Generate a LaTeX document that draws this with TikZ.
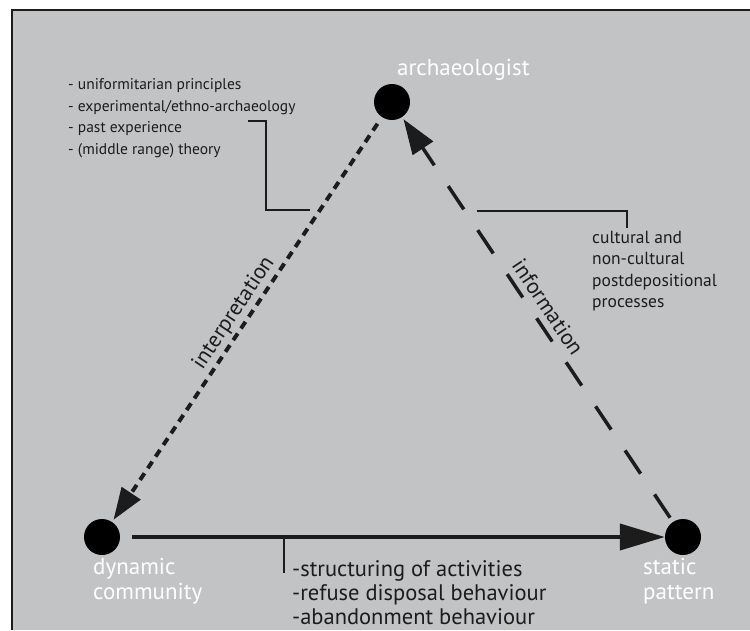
\documentclass[tikz,border=0pt]{standalone}
\usepackage{fontspec}
\setmainfont{PT Sans}
\usetikzlibrary{arrows.meta,calc}
\definecolor{bg}{HTML}{C2C3C5}
\definecolor{ink}{HTML}{1C1C1C}
\begin{document}
\begin{tikzpicture}[x=1pt,y=-1pt,
  dot/.style={circle,fill=black,minimum size=36pt,inner sep=0pt},
  wlabel/.style={text=white,font=\fontsize{23}{25}\selectfont,align=left,inner sep=0pt},
  lnotestyle/.style={text=ink,font=\fontsize{15.5}{21.5}\selectfont,align=left,inner sep=0pt},
  note/.style={text=ink,font=\fontsize{17.5}{21.5}\selectfont,align=left,inner sep=0pt},
  bnotestyle/.style={text=ink,font=\fontsize{22.5}{24}\selectfont,align=left,inner sep=0pt},
  rlabel/.style={text=ink,font=\fontsize{22}{26}\selectfont,inner sep=0pt},
  bracket/.style={draw=ink,line width=1.6pt},
  ]
\useasboundingbox (0,0) rectangle (750,630);
\fill[bg] (12,10) rectangle (750,630);
\draw[line width=1.5pt,ink] (12,630) -- (12,10) -- (750,10);

% nodes
\node[dot] (arch) at (392,102) {};
\node[dot] (dyn) at (102,537) {};
\node[dot] (stat) at (683,537) {};

% labels
\node[wlabel,anchor=base west] (larch) at (397,75.5) {archaeologist};
\node[wlabel,anchor=north west] (ldyn) at (93,558.5) {dynamic\\community};
\node[wlabel,anchor=north west] (lstat) at (643,558.5) {static\\pattern};

% connectors
\draw[ink,line width=4pt,dash pattern=on 8pt off 6pt,
  -{Triangle[length=32pt,width=22pt]},shorten <=8pt,shorten >=2.5pt] (arch) -- (dyn);
\draw[ink,line width=3.5pt,dash pattern=on 28pt off 25pt,
  -{Triangle[length=35pt,width=24pt]},shorten <=5pt,shorten >=2.5pt] (stat) -- (arch);
\draw[ink,line width=4pt,-{Triangle[length=45pt,width=26pt]},shorten <=12pt] (dyn) -- (stat);

\node[rlabel,rotate=56.4] (interp) at (234,313) {interpretation};
\node[rlabel,rotate=-56.2] (info) at (548,307) {information};

% notes
\node[lnotestyle,anchor=north west] (lnote) at (68,78.5) {- uniformitarian principles\\- experimental/ethno-archaeology\\- past experience\\- (middle range) theory};
\node[note,anchor=north west] (rnote) at (592,231) {cultural and\\non-cultural\\postdepositional\\processes};
\node[bnotestyle,anchor=north west] (bnote) at (292,560) {-structuring of activities\\-refuse disposal behaviour\\-abandonment behaviour};

% brackets
\coordinate (lb1) at (248,121);
\coordinate (lb2) at (266,210);
\coordinate (lb3) at (310,210);
\draw[bracket] (lb1) -| (lb2) -- (lb3);
\coordinate (rb1) at (477,211);
\coordinate (rb2) at (627,228);
\draw[bracket] (rb1) -| (rb2);
\coordinate (tkA) at (284,537);
\coordinate (tkB) at (284,573);
\draw[bracket] (tkA) -- (tkB);
\end{tikzpicture}
\end{document}
